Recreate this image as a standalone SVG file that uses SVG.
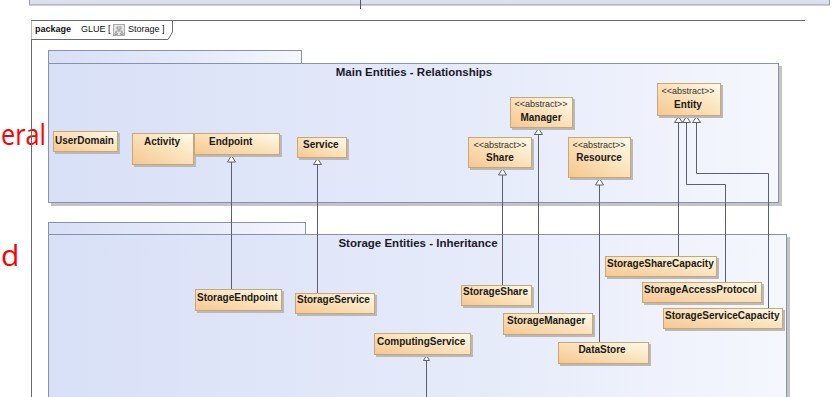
<svg xmlns="http://www.w3.org/2000/svg" width="836" height="397" viewBox="0 0 836 397">
<defs>
<linearGradient id="ng" x1="0" y1="1" x2="1" y2="0">
<stop offset="0" stop-color="#f6c78f"/>
<stop offset="0.55" stop-color="#fbe3bd"/>
<stop offset="1" stop-color="#fffbe9"/>
</linearGradient>
<linearGradient id="pg" x1="0" y1="0" x2="1" y2="0">
<stop offset="0" stop-color="#d8e0f7"/>
<stop offset="0.6" stop-color="#e6ebfa"/>
<stop offset="1" stop-color="#f5f7fd"/>
</linearGradient>
<linearGradient id="bar" x1="0" y1="0" x2="0" y2="1">
<stop offset="0" stop-color="#f0f2f8"/>
<stop offset="1" stop-color="#d6dbe8"/>
</linearGradient>
</defs>
<style>
.nd{fill:url(#ng);stroke:#c8a676;stroke-width:1}
.sh{fill:#b9b9b9}
.pk{fill:url(#pg);stroke:#8a92aa;stroke-width:1}
.psh{fill:#c4c4c8}
.t{font-family:"Liberation Sans",Arial,sans-serif;font-size:10px;font-weight:bold;fill:#1a1a1a}
.st{font-family:"Liberation Sans",Arial,sans-serif;font-size:9px;fill:#333}
.pt{font-family:"Liberation Sans",Arial,sans-serif;font-size:11.5px;font-weight:bold;fill:#1a1a2a}
.ln{fill:none;stroke:#5c5f6e;stroke-width:1}
.ah{fill:#fff;stroke:#5c5f6e;stroke-width:1}
.red{font-family:"Open Sans","Liberation Sans",sans-serif;font-size:30px;fill:#ff0000}
</style>
<rect width="836" height="397" fill="#ffffff"/>
<!-- top bar -->
<rect x="29.5" y="-10" width="800" height="15" fill="url(#bar)" stroke="#9a9aa4"/>
<line x1="360.5" y1="0" x2="360.5" y2="9" stroke="#555" stroke-width="1"/>
<!-- red side text -->
<text class="red" x="1" y="145" textLength="45" lengthAdjust="spacingAndGlyphs">eral</text>
<text class="red" x="1" y="266">d</text>
<!-- frame -->
<g id="frame">
<path d="M31.5,397 V20.5 H805" fill="none" stroke="#6a6a6a" stroke-width="1"/>
<path d="M31.5,20.5 H172.5 V32 L168,39.5 H31.5" fill="#ffffff" stroke="#6a6a6a" stroke-width="1"/>
<text x="35" y="32" font-family="'Liberation Sans',Arial,sans-serif" font-size="9" font-weight="bold" fill="#111">package</text>
<text x="81" y="32" font-family="'Liberation Sans',Arial,sans-serif" font-size="9" fill="#111">GLUE [</text>
<rect x="113.5" y="24.5" width="11" height="11" fill="#e4e4e4" stroke="#999" stroke-width="0.8"/>
<path d="M117,27 h4 v2 h-4z M119,29 v2 M116,31 h6 M116,31 v2 M122,31 v2 M114.8,33 h2.5 v1.5 h-2.5z M120.7,33 h2.5 v1.5 h-2.5z" fill="none" stroke="#777" stroke-width="0.6"/>
<text x="128" y="32" font-family="'Liberation Sans',Arial,sans-serif" font-size="9" fill="#111">Storage ]</text>
</g>
<!-- packages -->
<g id="pkg-main">
<rect class="psh" x="51" y="66" width="731" height="140"/>
<rect class="pk" x="48.5" y="50.5" width="253" height="13"/>
<rect class="pk" x="48.5" y="63.5" width="730" height="139"/>
<text class="pt" x="414" y="76" text-anchor="middle">Main Entities - Relationships</text>
</g>
<g id="pkg-storage">
<rect class="psh" x="51" y="237" width="739" height="170"/>
<rect class="pk" x="48.5" y="222.5" width="257" height="12"/>
<rect class="pk" x="48.5" y="234.5" width="738" height="170"/>
<text class="pt" x="418" y="247" text-anchor="middle">Storage Entities - Inheritance</text>
</g>
<!-- connectors -->
<g id="connectors">
<path class="ln" d="M231.5,162 V289"/>
<path class="ah" d="M231.5,155.5 L227.5,162 H235.5 Z"/>
<path class="ln" d="M317.5,164 V293"/>
<path class="ah" d="M317.5,158.5 L313.5,164.5 H321.5 Z"/>
<path class="ln" d="M538.5,134 V313"/>
<path class="ah" d="M538.5,128.5 L534.5,134.5 H542.5 Z"/>
<path class="ln" d="M502.5,175 V285"/>
<path class="ah" d="M502.5,168.5 L498.5,175 H506.5 Z"/>
<path class="ln" d="M599.5,185 V342"/>
<path class="ah" d="M599.5,178.5 L595.5,185 H603.5 Z"/>
<path class="ln" d="M678.5,122 V256"/>
<path class="ln" d="M686.5,122 V184.5 H725.5 V282"/>
<path class="ln" d="M696.5,122 V173.5 H768.5 V308"/>
<path class="ah" d="M678.5,116.5 L674.5,122.5 H682.5 Z"/>
<path class="ah" d="M686.5,116.5 L682.5,122.5 H690.5 Z"/>
<path class="ah" d="M696.5,116.5 L692.5,122.5 H700.5 Z"/>
<path class="ln" d="M426.5,397 V360"/>
<path class="ah" d="M426.5,355.5 L423.5,360.5 H429.5 Z"/>
</g>
<!-- nodes -->
<g id="UserDomain"><rect class="sh" x="55" y="133" width="65" height="21"/><rect class="nd" x="53.5" y="131.5" width="64" height="20"/><text class="t" x="55" y="143.5">UserDomain</text></g>
<g id="Activity"><rect class="sh" x="134" y="135" width="62" height="32"/><rect class="nd" x="132.5" y="133.5" width="61" height="31"/><text class="t" x="162" y="144.5" text-anchor="middle">Activity</text></g>
<g id="Endpoint"><rect class="sh" x="196" y="135" width="86" height="22"/><rect class="nd" x="194.5" y="133.5" width="85" height="21"/><text class="t" x="209" y="144.5">Endpoint</text></g>
<g id="Service"><rect class="sh" x="299" y="139" width="50" height="21"/><rect class="nd" x="297.5" y="137.5" width="49" height="20"/><text class="t" x="303" y="147.5">Service</text></g>
<g id="Manager"><rect class="sh" x="512" y="99" width="63" height="31"/><rect class="nd" x="510.5" y="97.5" width="62" height="30"/><text class="st" x="541" y="107" text-anchor="middle">&lt;&lt;abstract&gt;&gt;</text><text class="t" x="541" y="121" text-anchor="middle">Manager</text></g>
<g id="Share"><rect class="sh" x="470" y="139" width="64" height="31"/><rect class="nd" x="468.5" y="137.5" width="63" height="30"/><text class="st" x="500" y="148" text-anchor="middle">&lt;&lt;abstract&gt;&gt;</text><text class="t" x="500" y="161" text-anchor="middle">Share</text></g>
<g id="Resource"><rect class="sh" x="570" y="139" width="63" height="41"/><rect class="nd" x="568.5" y="137.5" width="62" height="40"/><text class="st" x="599" y="148" text-anchor="middle">&lt;&lt;abstract&gt;&gt;</text><text class="t" x="599" y="161" text-anchor="middle">Resource</text></g>
<g id="Entity"><rect class="sh" x="659" y="85" width="64" height="33"/><rect class="nd" x="657.5" y="83.5" width="63" height="32"/><text class="st" x="688" y="94" text-anchor="middle">&lt;&lt;abstract&gt;&gt;</text><text class="t" x="688" y="108" text-anchor="middle">Entity</text></g>
<g id="StorageEndpoint"><rect class="sh" x="197" y="291" width="87" height="22"/><rect class="nd" x="195.5" y="289.5" width="86" height="21"/><text class="t" x="197" y="300.5">StorageEndpoint</text></g>
<g id="StorageService"><rect class="sh" x="297" y="295" width="80" height="21"/><rect class="nd" x="295.5" y="293.5" width="79" height="20"/><text class="t" x="297" y="303">StorageService</text></g>
<g id="ComputingService"><rect class="sh" x="376" y="335" width="97" height="22"/><rect class="nd" x="374.5" y="333.5" width="96" height="21"/><text class="t" x="377" y="345">ComputingService</text></g>
<g id="StorageShare"><rect class="sh" x="463" y="287" width="71" height="21"/><rect class="nd" x="461.5" y="285.5" width="70" height="20"/><text class="t" x="463" y="295">StorageShare</text></g>
<g id="StorageManager"><rect class="sh" x="505" y="315" width="90" height="22"/><rect class="nd" x="503.5" y="313.5" width="89" height="21"/><text class="t" x="507" y="324">StorageManager</text></g>
<g id="DataStore"><rect class="sh" x="560" y="344" width="91" height="22"/><rect class="nd" x="558.5" y="342.5" width="90" height="21"/><text class="t" x="602" y="353" text-anchor="middle">DataStore</text></g>
<g id="StorageShareCapacity"><rect class="sh" x="607" y="258" width="112" height="21"/><rect class="nd" x="605.5" y="256.5" width="111" height="20"/><text class="t" x="607" y="267">StorageShareCapacity</text></g>
<g id="StorageAccessProtocol"><rect class="sh" x="644" y="284" width="120" height="21"/><rect class="nd" x="642.5" y="282.5" width="119" height="20"/><text class="t" x="644" y="293">StorageAccessProtocol</text></g>
<g id="StorageServiceCapacity"><rect class="sh" x="665" y="310" width="120" height="21"/><rect class="nd" x="663.5" y="308.5" width="119" height="20"/><text class="t" x="665" y="319">StorageServiceCapacity</text></g>
</svg>
